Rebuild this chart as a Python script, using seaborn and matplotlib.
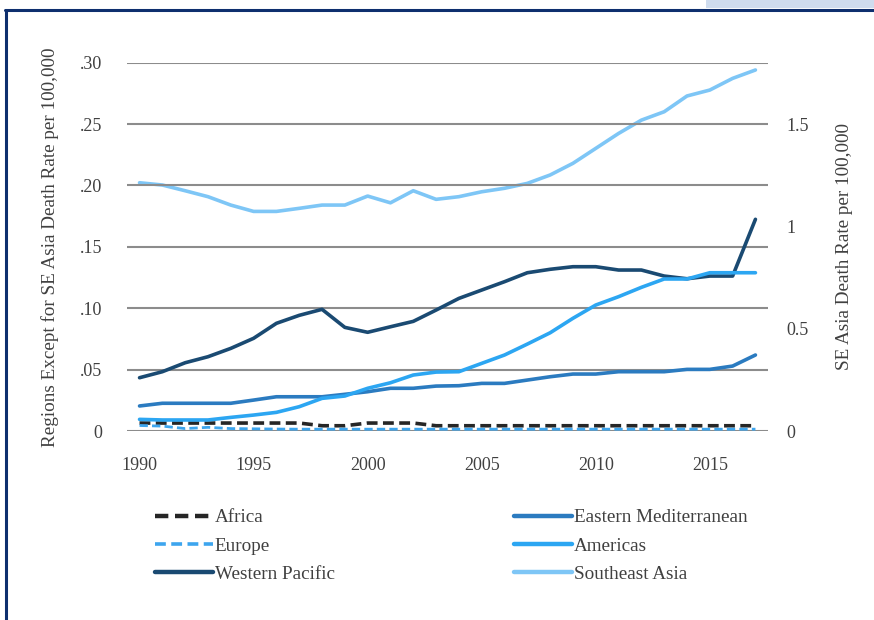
import numpy as np
import pandas as pd
import matplotlib
matplotlib.use("Agg")
import matplotlib.pyplot as plt
import seaborn as sns
from matplotlib.patches import Rectangle
from matplotlib.lines import Line2D

years = list(range(1990, 2018))

africa = [0.0065, 0.0065, 0.0065, 0.0065, 0.0065, 0.0065, 0.0065, 0.0065, 0.0043, 0.0043,
          0.0065, 0.0065, 0.0065, 0.0043, 0.0043, 0.0043, 0.0043, 0.0043, 0.0043, 0.0043,
          0.0043, 0.0043, 0.0043, 0.0043, 0.0043, 0.0043, 0.0043, 0.0043]
europe = [0.0045, 0.0040, 0.0020, 0.0030, 0.0020, 0.0018, 0.0016, 0.0015, 0.0015, 0.0015,
          0.0015, 0.0015, 0.0015, 0.0015, 0.0015, 0.0015, 0.0015, 0.0015, 0.0015, 0.0015,
          0.0015, 0.0015, 0.0015, 0.0015, 0.0015, 0.0015, 0.0015, 0.0015]
western_pacific = [0.0434, 0.0483, 0.0556, 0.0605, 0.0673, 0.0755, 0.0877, 0.0942, 0.0991, 0.0844,
                   0.0804, 0.0849, 0.0893, 0.0985, 0.1080, 0.1148, 0.1216, 0.1289, 0.1317, 0.1338,
                   0.1338, 0.1311, 0.1311, 0.1262, 0.1240, 0.1262, 0.1262, 0.1724]
eastern_med = [0.0204, 0.0226, 0.0226, 0.0226, 0.0226, 0.0252, 0.0279, 0.0279, 0.0279, 0.0299,
               0.0320, 0.0348, 0.0348, 0.0366, 0.0369, 0.0388, 0.0388, 0.0415, 0.0442, 0.0464,
               0.0464, 0.0483, 0.0483, 0.0483, 0.0502, 0.0502, 0.0529, 0.0619]
americas = [0.0095, 0.0090, 0.0090, 0.0090, 0.0111, 0.0130, 0.0152, 0.0198, 0.0266, 0.0285,
            0.0348, 0.0393, 0.0456, 0.0480, 0.0483, 0.0551, 0.0619, 0.0708, 0.0800, 0.0918,
            0.1026, 0.1094, 0.1170, 0.1238, 0.1238, 0.1289, 0.1289, 0.1289]
southeast_asia = [1.213, 1.202, 1.174, 1.145, 1.104, 1.073, 1.073, 1.088, 1.104, 1.104,
                  1.148, 1.115, 1.174, 1.132, 1.145, 1.169, 1.186, 1.210, 1.251, 1.308,
                  1.381, 1.454, 1.519, 1.560, 1.637, 1.666, 1.723, 1.764]

left_ticks = [0, 0.05, 0.10, 0.15, 0.20, 0.25, 0.30]
left_labels = ["0", ".05", ".10", ".15", ".20", ".25", ".30"]
right_ticks = [0, 0.5, 1, 1.5]
right_labels = ["0", "0.5", "1", "1.5"]
x_ticks = [1990, 1995, 2000, 2005, 2010, 2015]

sns.set_style("white")
plt.rcParams['font.family'] = ['Liberation Serif', 'DejaVu Serif']

fig = plt.figure(figsize=(8.74, 6.2), dpi=100)
ax = fig.add_axes([0.1453, 0.3048, 0.8787 - 0.1453, 0.899 - 0.3048])
ax2 = ax.twinx()

text_color = "#404040"
lw = 2.6
fs_tick = 13.0
fs_lab = 13.8

styles = [
    ("Africa", africa, ax, "#262626", (0, (3, 1.5)), lw),
    ("Europe", europe, ax, "#3DA5EE", (0, (3, 1.5)), 2.0),
    ("Western Pacific", western_pacific, ax, "#1A4A72", "-", lw),
    ("Eastern Mediterranean", eastern_med, ax, "#2B7BC0", "-", lw),
    ("Americas", americas, ax, "#2CA6F2", "-", lw),
    ("Southeast Asia", southeast_asia, ax2, "#7EC6F6", "-", lw),
]

handles = []
for name, vals, a, col, ls, w in styles:
    df = pd.DataFrame({"year": years, "value": vals})
    sns.lineplot(data=df, x="year", y="value", ax=a, color=col, linewidth=w,
                 linestyle=ls, legend=False, zorder=3)
    handles.append(Line2D([0], [0], color=col, linewidth=w + 0.6, linestyle=ls, label=name))

ax.set_zorder(2)
ax.patch.set_visible(False)

ax.set_xlim(1989.45, 2017.55)
ax.set_ylim(0, 0.30)
ax2.set_ylim(0, 1.8)

ax.set_yticks(left_ticks)
ax.set_yticklabels(left_labels)
ax2.set_yticks(right_ticks)
ax2.set_yticklabels(right_labels)
ax.set_xticks(x_ticks)
ax.set_xticklabels([str(x) for x in x_ticks])

ax.grid(axis="y", color="#8C8C8C", linewidth=1.5, zorder=0)
ax.grid(axis="x", visible=False)
ax2.grid(False)

for a in (ax, ax2):
    for s in a.spines.values():
        s.set_visible(False)

ax.tick_params(axis="y", length=0, pad=18, labelsize=fs_tick, labelcolor=text_color)
ax.tick_params(axis="x", length=0, pad=19, labelsize=fs_tick, labelcolor=text_color)
ax2.tick_params(axis="y", length=0, pad=13.5, labelsize=fs_tick, labelcolor=text_color)

ax.set_xlabel("")
ax.set_ylabel("Regions Except for SE Asia Death Rate per 100,000", fontsize=fs_lab,
              color=text_color, labelpad=15)
ax2.set_ylabel("SE Asia Death Rate per 100,000", fontsize=fs_lab, color=text_color,
               labelpad=19)

leg_kw = dict(loc="upper left", frameon=False, fontsize=fs_lab, handlelength=3.0,
              handletextpad=0.12, labelspacing=0.56, borderaxespad=0, borderpad=0)
leg1 = fig.legend(handles=handles[:3], bbox_to_anchor=(155 / 874, 1 - 509 / 620), **leg_kw)
leg2 = fig.legend(handles=handles[3:], bbox_to_anchor=(514 / 874, 1 - 509 / 620), **leg_kw)
for lg in (leg1, leg2):
    for t in lg.get_texts():
        t.set_color(text_color)

# frame decoration
fig.add_artist(Rectangle((706 / 874, 1 - 8 / 620), (874 - 706) / 874, 8 / 620,
                         transform=fig.transFigure, facecolor="#CFDCEE", edgecolor="none"))
fig.add_artist(Line2D([5 / 874, 1], [1 - 10 / 620, 1 - 10 / 620], transform=fig.transFigure,
                      color="#0E2F6E", linewidth=2.2))
fig.add_artist(Line2D([6 / 874, 6 / 874], [1 - 10 / 620, 0], transform=fig.transFigure,
                      color="#0E2F6E", linewidth=2.2))

fig.savefig("out.png", dpi=100)
